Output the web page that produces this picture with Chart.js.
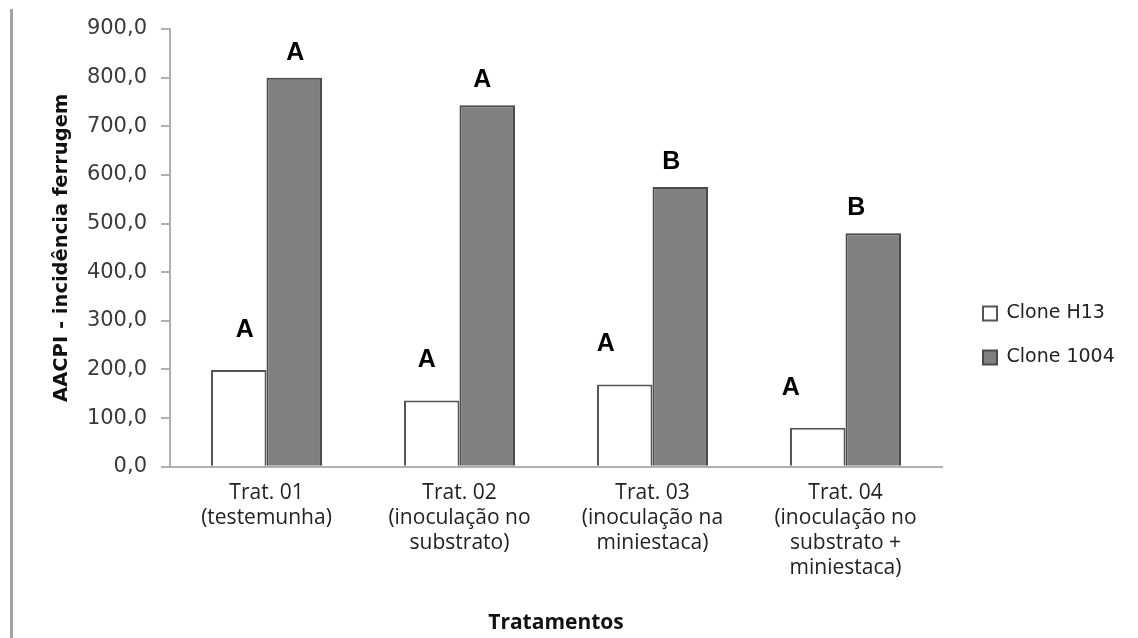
<!DOCTYPE html>
<html>
<head>
<meta charset="utf-8">
<script src="https://cdn.jsdelivr.net/npm/chart.js@4.4.1/dist/chart.umd.min.js"></script>
<style>
html,body{margin:0;padding:0;background:#fff;}
#wrap{position:relative;width:1138px;height:638px;}
#wrap canvas{position:absolute;left:0;top:0;}
#frame{position:absolute;left:10px;top:9px;width:3px;height:629px;background:#a3a3a3;}
</style>
</head>
<body>
<div id="wrap"><canvas id="chart" width="1138" height="638"></canvas><div id="frame"></div></div>
<script>
// data
const categories = [
  ['Trat. 01', '(testemunha)'],
  ['Trat. 02', '(inoculação no', 'substrato)'],
  ['Trat. 03', '(inoculação na', 'miniestaca)'],
  ['Trat. 04', '(inoculação no', 'substrato +', 'miniestaca)']
];
const seriesNames = ['Clone H13', 'Clone 1004'];
const valuesH13 = [199, 136, 169, 80];
const values1004 = [800, 743, 575, 480];
const lettersH13 = ['A', 'A', 'A', 'A'];
const letters1004 = ['A', 'A', 'B', 'B'];
const yMin = 0, yMax = 900, yStep = 100;

const letters = [lettersH13, letters1004];

// letter placement relative to its bar (style only)
const letterDx = [[6, -5, -19, -27], [1, -5, -9, -17]];
const letterGap = [40, 25];

const legendFont = {family: '"DejaVu Sans", sans-serif', size: 19};
const legendPad = 25;

// work out right padding so the plot ends where the reference does
const mctx = document.createElement('canvas').getContext('2d');
mctx.font = legendFont.size + 'px ' + legendFont.family;
const legendTextW = Math.max(...seriesNames.map(s => mctx.measureText(s).width));
const legendW = legendPad + 14 + legendFont.size / 2 + legendTextW + 10;
const padRight = Math.max(0, 1138 - 942 - legendW);

const letterPlugin = {
  id: 'letters',
  afterDatasetsDraw(chart) {
    const ctx = chart.ctx;
    ctx.save();
    ctx.font = 'bold 25px "Liberation Sans", Arial, sans-serif';
    ctx.fillStyle = '#000';
    ctx.textAlign = 'center';
    ctx.textBaseline = 'middle';
    chart.data.datasets.forEach((ds, i) => {
      chart.getDatasetMeta(i).data.forEach((bar, j) => {
        ctx.fillText(letters[i][j], bar.x + letterDx[i][j], bar.y - letterGap[i]);
      });
    });
    ctx.restore();
  }
};

const legendNudge = {
  id: 'legendNudge',
  afterLayout(chart) {
    const lg = chart.legend;
    lg.left += 16; lg.right += 16;
    lg.top += 2; lg.bottom += 2;
  }
};

const ctx = document.getElementById('chart').getContext('2d');
new Chart(ctx, {
  type: 'bar',
  data: {
    labels: categories,
    datasets: [{
      label: seriesNames[0],
      data: valuesH13,
      backgroundColor: '#ffffff',
      borderColor: '#555555',
      borderWidth: 2,
      borderSkipped: 'bottom'
    }, {
      label: seriesNames[1],
      data: values1004,
      backgroundColor: '#808080',
      borderColor: '#4a4a4a',
      borderWidth: 2,
      borderSkipped: 'bottom'
    }]
  },
  options: {
    responsive: false,
    animation: false,
    devicePixelRatio: 1,
    categoryPercentage: 0.575,
    barPercentage: 1,
    layout: {padding: {left: 0, top: 29, right: padRight, bottom: 0}},
    plugins: {
      tooltip: {enabled: false},
      legend: {
        position: 'right',
        align: 'center',
        labels: {
          boxWidth: 14,
          boxHeight: 14,
          padding: legendPad,
          color: '#222',
          font: legendFont
        }
      }
    },
    scales: {
      x: {
        grid: {display: true, drawOnChartArea: false, drawTicks: false},
        border: {display: true, color: '#b0b0b0', width: 2},
        ticks: {
          padding: 14,
          color: '#222',
          maxRotation: 0,
          autoSkip: false,
          font: {family: '"Open Sans", sans-serif', size: 21, lineHeight: '25px'}
        },
        title: {
          display: true,
          text: 'Tratamentos',
          color: '#111',
          padding: {top: 0, bottom: 2},
          font: {family: '"Open Sans", sans-serif', size: 21, weight: 'bold'}
        },
        afterFit(scale) { scale.height = 638 - 466.7; }
      },
      y: {
        min: yMin,
        max: yMax,
        grid: {display: true, drawOnChartArea: false, drawTicks: true, tickLength: 9, color: '#b0b0b0', lineWidth: 2},
        border: {display: true, color: '#b0b0b0', width: 2},
        ticks: {
          stepSize: yStep,
          padding: 14,
          color: '#3a3a3a',
          font: {family: '"DejaVu Sans", sans-serif', size: 21},
          callback: v => v.toFixed(1).replace('.', ',')
        },
        title: {
          display: true,
          text: 'AACPI - incidência ferrugem',
          color: '#111',
          padding: {top: 50, bottom: 0},
          font: {family: '"DejaVu Sans", sans-serif', size: 19.5, weight: 'bold'}
        },
        afterFit(scale) { scale.width = 170; }
      }
    }
  },
  plugins: [letterPlugin, legendNudge]
});
</script>
</body>
</html>
